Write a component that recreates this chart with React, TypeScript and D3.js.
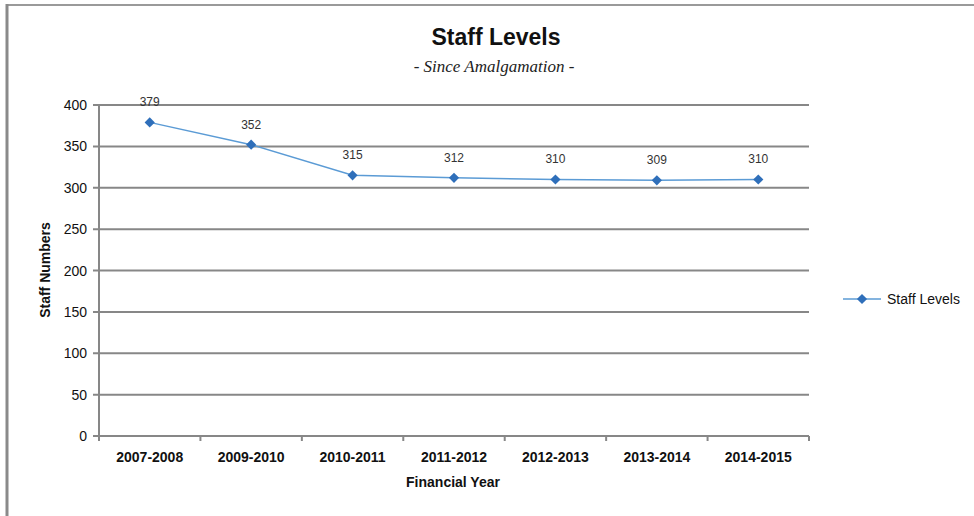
import React from "react";
import * as d3 from "d3";

const categories = ["2007-2008", "2009-2010", "2010-2011", "2011-2012", "2012-2013", "2013-2014", "2014-2015"];
const staffLevels = [379, 352, 315, 312, 310, 309, 310];
const yTicks = [0, 50, 100, 150, 200, 250, 300, 350, 400];

const W = 974;
const H = 516;
const narrow = "'Liberation Sans Narrow', 'Arial Narrow', 'Liberation Sans', Arial, sans-serif";

export default function App() {
  const x = d3.scaleBand<string>().domain(categories).range([99, 809]);
  const y = d3.scaleLinear().domain([0, 400]).range([436, 105]);
  const cx = (c: string) => (x(c) ?? 0) + x.bandwidth() / 2;
  const line = d3
    .line<number>()
    .x((_, i) => cx(categories[i]))
    .y((d) => y(d));
  const diamond = d3.symbol().type(d3.symbolSquare).size(52)() as string;
  const boundaries = [...categories.map((c) => x(c) ?? 0), x.range()[1]];

  return (
    <svg
      width={W}
      height={H}
      style={{ position: "absolute", left: 0, top: 0, background: "#fff" }}
    >
      {/* frame */}
      <line x1={6} x2={W} y1={5} y2={5} stroke="#9a9a9a" strokeWidth={2} />
      <line x1={7} x2={7} y1={4} y2={H} stroke="#8a8a8a" strokeWidth={3} />

      {/* titles */}
      <text x={496} y={45} textAnchor="middle" fontFamily={narrow} fontWeight="bold" fontSize={23} fill="#111">
        Staff Levels
      </text>
      <text x={494} y={72} textAnchor="middle" fontFamily="'Liberation Serif', 'DejaVu Serif', serif" fontStyle="italic" fontSize={17} fill="#222">
        - Since Amalgamation -
      </text>

      {/* gridlines */}
      {yTicks.map((t) => (
        <line key={t} x1={93} x2={x.range()[1]} y1={y(t)} y2={y(t)} stroke="#878787" strokeWidth={2} />
      ))}
      {/* y axis */}
      <line x1={99} x2={99} y1={y(400)} y2={y(0) + 5} stroke="#878787" strokeWidth={2} />
      {yTicks.map((t) => (
        <text key={t} x={87} y={y(t) + 5} textAnchor="end" fontFamily={narrow} fontSize={14} fill="#111">
          {t}
        </text>
      ))}
      {/* x ticks */}
      {boundaries.map((b, i) => (
        <line key={i} x1={b} x2={b} y1={y(0)} y2={y(0) + 5} stroke="#878787" strokeWidth={2} />
      ))}
      {categories.map((c) => (
        <text key={c} x={cx(c)} y={462} textAnchor="middle" fontFamily={narrow} fontSize={14} fontWeight="bold" fill="#111">
          {c}
        </text>
      ))}

      {/* axis titles */}
      <text x={453} y={487} textAnchor="middle" fontFamily={narrow} fontWeight="bold" fontSize={14} fill="#111">
        Financial Year
      </text>
      <text
        transform={`translate(50, 270) rotate(-90)`}
        textAnchor="middle"
        fontFamily={narrow}
        fontWeight="bold"
        fontSize={14}
        fill="#111"
      >
        Staff Numbers
      </text>

      {/* series */}
      <path d={line(staffLevels) ?? ""} fill="none" stroke="#5b9bd5" strokeWidth={1.5} />
      {staffLevels.map((v, i) => (
        <g key={i}>
          <path d={diamond} transform={`translate(${cx(categories[i])}, ${y(v)}) rotate(45)`} fill="#2f6fba" />
          <text x={cx(categories[i])} y={y(v) - 16} textAnchor="middle" fontFamily={narrow} fontSize={12} fill="#333">
            {v}
          </text>
        </g>
      ))}

      {/* legend */}
      <line x1={843} x2={881} y1={299} y2={299} stroke="#5b9bd5" strokeWidth={1.5} />
      <path d={diamond} transform="translate(862, 299) rotate(45)" fill="#2f6fba" />
      <text x={887} y={304} fontFamily={narrow} fontSize={14} fill="#111">
        Staff Levels
      </text>
    </svg>
  );
}
